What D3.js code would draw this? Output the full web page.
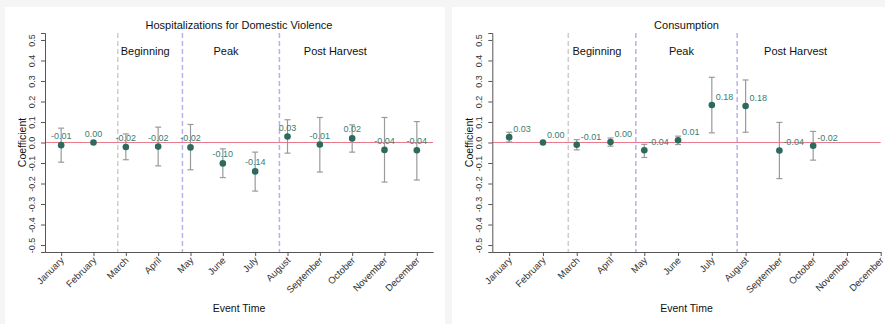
<!DOCTYPE html>
<html>
<head>
<meta charset="utf-8">
<script src="https://cdn.jsdelivr.net/npm/d3@7"></script>
<style>
  html, body { margin: 0; padding: 0; background: #f5f5f5; }
  svg { display: block; font-family: "Liberation Sans", Arial, Helvetica, sans-serif; }
</style>
</head>
<body>
<svg id="chart" width="885" height="324"></svg>
<script>
// months on the x axis
var months = ['January', 'February', 'March', 'April', 'May', 'June', 'July',
  'August', 'September', 'October', 'November', 'December'];

// hospitalizations for domestic violence
var dvCoef  = [-0.013, 0.000, -0.022, -0.020, -0.024, -0.102, -0.141, 0.029, -0.010, 0.020, -0.036, -0.038];
var dvLower = [-0.096, null, -0.084, -0.114, -0.133, -0.171, -0.237, -0.052, -0.144, -0.047, -0.193, -0.183];
var dvUpper = [0.070, null, 0.042, 0.075, 0.088, -0.031, -0.047, 0.111, 0.122, 0.086, 0.122, 0.102];

// consumption
var consCoef  = [0.026, 0.000, -0.011, 0.002, -0.038, 0.011, 0.183, 0.178, -0.039, -0.016, null, null];
var consLower = [0.003, null, -0.036, -0.018, -0.073, -0.010, 0.047, 0.050, -0.176, -0.086, null, null];
var consUpper = [0.050, null, 0.014, 0.022, -0.009, 0.031, 0.318, 0.305, 0.098, 0.054, null, null];

// harvest phases
var phaseBreaks = [2.75, 4.75, 7.75];
var phaseNames = ['Beginning', 'Peak', 'Post Harvest'];
var phaseLabelAt = [3.6, 6.1, 9.48];

var yTicks = [-0.5, -0.4, -0.3, -0.2, -0.1, 0, 0.1, 0.2, 0.3, 0.4, 0.5];

var loc = d3.formatLocale({decimal: '.', thousands: ',', grouping: [3], currency: ['', ''], minus: '-'});
var fmt2 = loc.format('.2f');
var fmt1 = loc.format('.1f');

var svg = d3.select('#chart');

function rows(coef, lower, upper) {
  return months.map(function(m, i) {
    return {i: i + 1, month: m, coef: coef[i], lo: lower[i], hi: upper[i]};
  }).filter(function(d) { return d.coef != null; });
}

function drawPanel(opt) {
  var panel = svg.append('g');

  panel.append('rect')
    .attr('x', opt.bg[0]).attr('y', 7)
    .attr('width', opt.bg[1] - opt.bg[0]).attr('height', 330)
    .attr('fill', '#fff');

  var x = d3.scaleLinear().domain(opt.xDomain).range([opt.left, opt.right]);
  var y = d3.scaleLinear().domain([-0.534, 0.534]).range([252, 33]);

  // phase separators
  panel.selectAll('line.phase').data(phaseBreaks).enter()
    .append('line')
    .attr('class', 'phase')
    .attr('x1', function(d) { return x(d); })
    .attr('x2', function(d) { return x(d); })
    .attr('y1', 33).attr('y2', 252)
    .attr('stroke', function(d, i) { return i === 0 ? '#cdcdcd' : '#b8b2ee'; })
    .attr('stroke-width', 1.5)
    .attr('stroke-dasharray', '5,3');

  panel.selectAll('text.phase').data(phaseNames).enter()
    .append('text')
    .attr('class', 'phase')
    .attr('x', function(d, i) { return x(phaseLabelAt[i]); })
    .attr('y', 55)
    .attr('text-anchor', 'middle')
    .attr('font-size', '11px')
    .attr('fill', '#111')
    .text(function(d) { return d; });

  // zero line
  panel.append('line')
    .attr('x1', opt.left).attr('x2', opt.right)
    .attr('y1', y(0)).attr('y2', y(0))
    .attr('stroke', '#e97b8c')
    .attr('stroke-width', 1.1);

  // axes
  var yAxis = panel.append('g')
    .attr('transform', 'translate(' + opt.left + ',0)')
    .call(d3.axisLeft(y).tickValues(yTicks).tickSize(4).tickPadding(5).tickFormat(fmt1));
  yAxis.select('.domain').attr('stroke', '#555');
  yAxis.selectAll('.tick line').attr('stroke', '#555');
  yAxis.selectAll('.tick text')
    .attr('font-size', '9px')
    .attr('fill', '#333')
    .attr('font-family', null)
    .attr('text-anchor', 'middle')
    .attr('x', null).attr('dy', null)
    .attr('transform', 'translate(-10,0) rotate(-90)');

  var xAxis = panel.append('g')
    .attr('transform', 'translate(0,252)')
    .call(d3.axisBottom(x).tickValues(d3.range(1, 13)).tickSize(4).tickSizeOuter(0)
      .tickFormat(function(d) { return months[d - 1]; }));
  xAxis.select('.domain').attr('stroke', '#555');
  xAxis.selectAll('.tick line').attr('stroke', '#555');
  xAxis.selectAll('.tick text')
    .attr('font-size', '9.5px')
    .attr('fill', '#333')
    .attr('font-family', null)
    .attr('text-anchor', 'end')
    .attr('y', null).attr('dy', null)
    .attr('transform', 'translate(3,9) rotate(-45)');

  // titles
  panel.append('text')
    .attr('x', (opt.left + opt.right) / 2).attr('y', 29)
    .attr('text-anchor', 'middle')
    .attr('font-size', '11px')
    .attr('fill', '#111')
    .text(opt.title);

  panel.append('text')
    .attr('x', (opt.left + opt.right) / 2).attr('y', 312)
    .attr('text-anchor', 'middle')
    .attr('font-size', '10.5px')
    .attr('fill', '#111')
    .text('Event Time');

  panel.append('text')
    .attr('transform', 'translate(' + (opt.left - 19) + ',' + y(0) + ') rotate(-90)')
    .attr('text-anchor', 'middle')
    .attr('font-size', '10.5px')
    .attr('fill', '#111')
    .text('Coefficient');

  var data = rows(opt.coef, opt.lower, opt.upper);
  var withCI = data.filter(function(d) { return d.lo != null; });

  // confidence intervals
  var ci = panel.selectAll('g.ci').data(withCI).enter().append('g').attr('class', 'ci')
    .attr('stroke', '#9a9a9a').attr('stroke-width', 1.2);
  ci.append('line')
    .attr('x1', function(d) { return x(d.i); }).attr('x2', function(d) { return x(d.i); })
    .attr('y1', function(d) { return y(d.lo); }).attr('y2', function(d) { return y(d.hi); });
  ci.append('line')
    .attr('x1', function(d) { return x(d.i) - 3; }).attr('x2', function(d) { return x(d.i) + 3; })
    .attr('y1', function(d) { return y(d.lo); }).attr('y2', function(d) { return y(d.lo); });
  ci.append('line')
    .attr('x1', function(d) { return x(d.i) - 3; }).attr('x2', function(d) { return x(d.i) + 3; })
    .attr('y1', function(d) { return y(d.hi); }).attr('y2', function(d) { return y(d.hi); });

  // points
  panel.selectAll('circle').data(data).enter()
    .append('circle')
    .attr('cx', function(d) { return x(d.i); })
    .attr('cy', function(d) { return y(d.coef); })
    .attr('r', 3.3)
    .attr('fill', '#2c6a5d');

  // value labels
  panel.selectAll('text.val').data(data).enter()
    .append('text')
    .attr('class', 'val')
    .attr('x', function(d) { return x(d.i) + opt.labelDx; })
    .attr('y', function(d) { return y(d.coef) - opt.labelDy; })
    .attr('text-anchor', opt.labelAnchor)
    .attr('font-size', '9px')
    .attr('fill', '#3a7d70')
    .text(function(d) { return fmt2(d.coef); });
}

drawPanel({
  title: 'Hospitalizations for Domestic Violence',
  bg: [5, 445], left: 45, right: 433, xDomain: [0.5, 12.5],
  coef: dvCoef, lower: dvLower, upper: dvUpper,
  labelDx: 0, labelDy: 6, labelAnchor: 'middle'
});

drawPanel({
  title: 'Consumption',
  bg: [452, 900], left: 492.3, right: 880.7, xDomain: [0.5, 12],
  coef: consCoef, lower: consLower, upper: consUpper,
  labelDx: 4, labelDy: 5, labelAnchor: 'start'
});
</script>
</body>
</html>
